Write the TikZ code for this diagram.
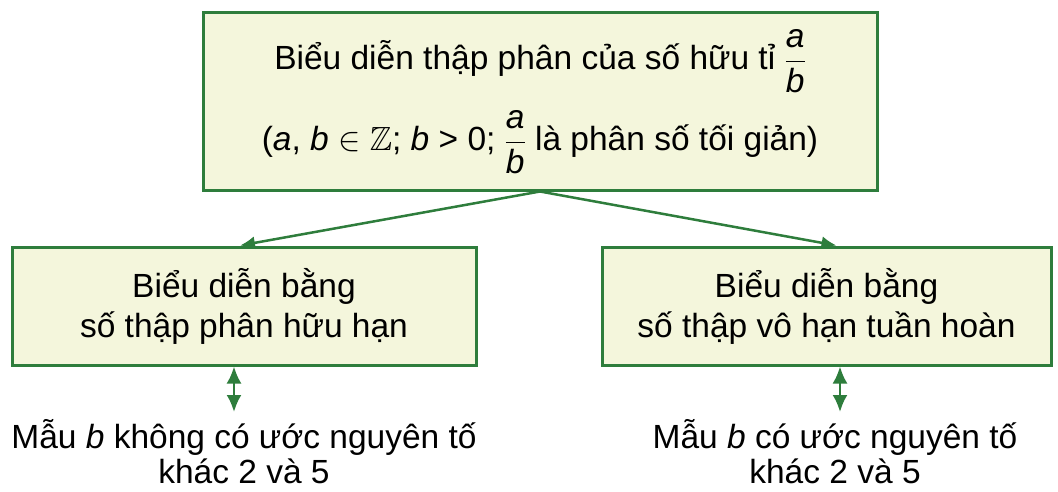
\documentclass[tikz,border=0pt]{standalone}
\usepackage{fix-cm}
\usepackage{amsmath,amssymb}
\usepackage{fontspec}
\setmainfont{Liberation Sans}
\usetikzlibrary{arrows.meta}
\definecolor{boxgreen}{HTML}{2E7D3C}
\definecolor{boxfill}{HTML}{F4F6DC}
\newcommand{\fracab}{$\dfrac{\textit{a}}{\textit{b}}$}
\tikzset{
	framebox/.style={draw=boxgreen, line width=3pt, fill=boxfill, align=center, inner sep=0pt,
		font=\fontsize{33.5}{40}\selectfont},
	notetext/.style={align=center, inner sep=0pt, font=\fontsize{33.5}{35}\selectfont},
	branch/.style={draw=boxgreen, line width=2.5pt, -{Latex[length=15pt,width=13pt]}},
	duo/.style={draw=boxgreen, line width=2.5pt, {Latex[length=17pt,width=15pt]}-{Latex[length=17pt,width=15pt]}}
}
\begin{document}
\begin{tikzpicture}[x=1pt,y=1pt]
	\useasboundingbox (0,0) rectangle (1058,491);
	% boxes
	\node[framebox, minimum width=674pt, minimum height=177pt] (top) at (540,389.5)
		{Biểu diễn thập phân của số hữu tỉ \fracab\\[16pt]
		(\textit{a}, \textit{b} $\in\mathbb{Z}$; \textit{b} > 0; \fracab\ là phân số tối giản)};
	\node[framebox, minimum width=464pt, minimum height=118pt] (left) at (244,185)
		{Biểu diễn bằng\\số thập phân hữu hạn};
	\node[framebox, minimum width=449pt, minimum height=118pt] (right) at (826.5,185)
		{Biểu diễn bằng\\số thập vô hạn tuần hoàn};
	% notes
	\node[notetext] (leftnote) at (244,39) {Mẫu \textit{b} không có ước nguyên tố\\khác 2 và 5};
	\node[notetext] (rightnote) at (835,39) {Mẫu \textit{b} có ước nguyên tố\\khác 2 và 5};
	\coordinate (leftend) at (234,79);
	\coordinate (rightend) at (840,79);
	% arrows
	\draw[branch] (top.south) -- ([xshift=-4pt]left.north);
	\draw[branch] (top.south) -- ([xshift=10pt]right.north);
	\draw[duo] (left.south -| leftend) -- (leftend);
	\draw[duo] (right.south -| rightend) -- (rightend);
\end{tikzpicture}
\end{document}
